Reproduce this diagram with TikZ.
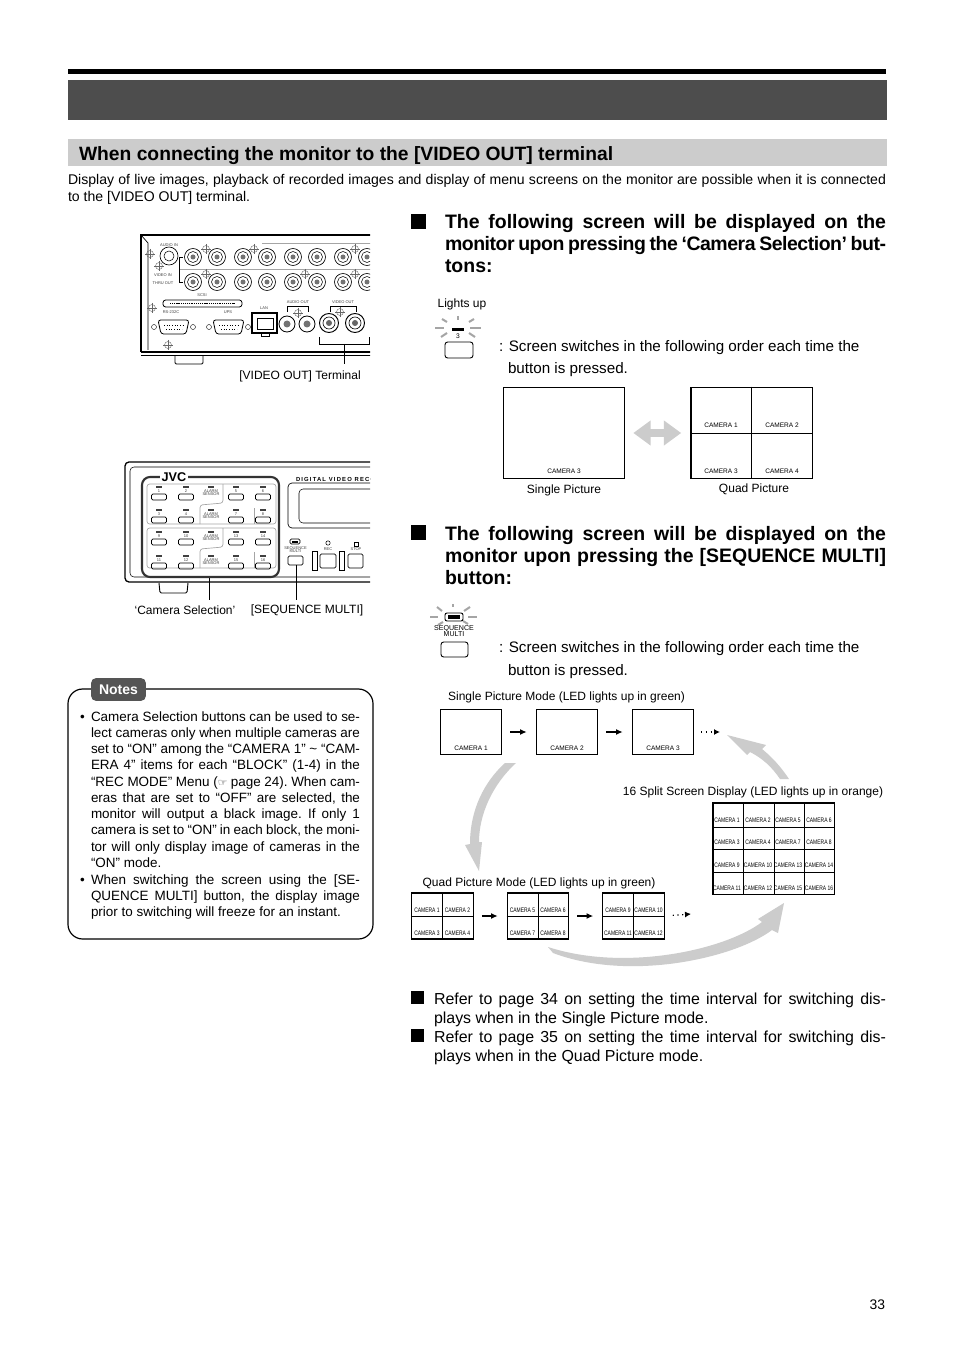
\documentclass[tikz,border=0pt]{standalone}
\usepackage{xcolor}
\usepackage{fontspec}
\setmainfont{Liberation Sans}
\newfontfamily\symfont{DejaVu Sans}
\usepackage{tikz}
\usetikzlibrary{arrows.meta}
\definecolor{bandgray}{RGB}{77, 77, 77}
\definecolor{lightband}{RGB}{204, 204, 204}
\definecolor{notesgray}{RGB}{85, 85, 85}
\definecolor{rimgray}{RGB}{165, 165, 165}
\newcommand{\fillline}[2]{\makebox[#1][s]{#2}}
\newcommand{\fs}[1]{\fontsize{#1}{#1}\selectfont}
\tikzset{
    txtbase/.style={anchor=base west, inner sep=0pt, outer sep=0pt},
    bodytxt/.style={txtbase, font=\fs{10.55}},
    headtxt/.style={txtbase, font=\fs{14.6}\bfseries},
    endtxt/.style={txtbase, font=\fs{11.95}},
    scrtxt/.style={txtbase, font=\fs{11.4}},
    notetxt/.style={txtbase, font=\fs{10.1}\frenchspacing},
    lbltxt/.style={inner sep=0pt, font=\fs{9}},
    camlabel/.style={inner sep=0pt, font=\fs{4.9}},
    camtight/.style={inner sep=0pt, font=\fs{4.9}, xscale=0.76},
    tinytxt/.style={inner sep=0pt, font=\fs{3}, text=black!75, align=center},
    bigscreen/.style={draw, line width=1pt, inner sep=0pt, minimum width=91pt, minimum height=68.5pt},
    seqscreen/.style={draw, line width=0.9pt, inner sep=0pt, minimum width=46pt, minimum height=34pt},
    quadscreen/.style={draw, line width=0.9pt, inner sep=0pt, minimum width=46pt, minimum height=34.5pt},
    splitscreen/.style={draw, line width=1pt, inner sep=0pt, minimum width=91pt, minimum height=68.5pt},
    gridline/.style={line width=0.6pt},
    steparrow/.style={line width=1.1pt, -{Latex[length=5pt,width=4.5pt]}, shorten <=6pt, shorten >=6.75pt},
    morearrow/.style={line width=0.9pt, dash pattern=on 0.9pt off 2.6pt, -{Latex[length=4.5pt,width=4.5pt]}, shorten <=5.25pt},
    swaparrow/.style={lightband, line width=6pt, {Triangle[length=13pt,width=18pt]}-{Triangle[length=13pt,width=18pt]}, shorten <=6pt, shorten >=6.75pt},
    ray/.style={rimgray, line width=1.5pt},
    panelbtn/.style={draw, rounded corners=1pt, line width=0.6pt},
    leadline/.style={line width=0.7pt},
    screwmark/.style={line width=0.3pt, black!60}
}
\begin{document}
\begin{tikzpicture}[x=0.75pt, y=-0.75pt]
    \useasboundingbox (0,0) rectangle (954,1351);
    \fill[white] (0,0) rectangle (954,1351);

    % Page header
    \fill[black] (68,69) rectangle (886,74);
    \fill[bandgray] (68,80) rectangle (887,120);
    \fill[lightband] (68,139) rectangle (887,166);
    \node[txtbase, font=\fs{14.45}\bfseries] (sectitle) at (79,160.5) {When connecting the monitor to the [VIDEO OUT] terminal};
    \node[bodytxt] (introa) at (68,185) {\fillline{613.5pt}{Display of live images, playback of recorded images and display of menu screens on the monitor are possible when it is connected}};
    \node[bodytxt] (introb) at (68,202) {to the [VIDEO OUT] terminal.};

    % Rear panel
    \begin{scope}
        \clip (130,225) rectangle (370,370);
        \draw[line width=1pt] (141,352) -- (141,235) -- (372,235);
        \draw[line width=0.5pt] (141,235) -- (148,243) -- (148,350);
        \draw[rimgray, line width=0.7pt] (262,243) -- (372,243);
        \draw[line width=1.2pt] (141,352) -- (372,352);
        \draw[line width=0.5pt] (141,355) -- (372,355);
        \draw[line width=0.7pt, rounded corners=1pt] (175,356) -- (175,364) -- (203,364) -- (203,356);
        \draw[rimgray, line width=0.7pt] (180,269) -- (372,269);
        % connectors
        \foreach \cx in {193,217,243,267,293,317,343,367} {
            \foreach \cy in {257,282} {
                \draw[line width=0.5pt] (\cx,\cy) circle[radius=8.5];
                \draw[line width=0.4pt] (\cx,\cy) circle[radius=5.5];
                \fill[black!55] (\cx,\cy) circle[radius=2.5];
            }
        }
        \draw[line width=0.5pt] (169,256) circle[radius=9];
        \draw[line width=0.4pt] (169,256) circle[radius=5];
        \draw[line width=0.4pt] (183,257) -- (179,257) -- (179,282) -- (183,282);
        \foreach \cx/\cy in {287/324,307/324} {
            \draw[line width=0.6pt] (\cx,\cy) circle[radius=8];
            \fill[black!55] (\cx,\cy) circle[radius=3.5];
        }
        \foreach \cx/\cy in {329/323,355/323} {
            \draw[line width=0.7pt] (\cx,\cy) circle[radius=9.5];
            \draw[line width=0.5pt] (\cx,\cy) circle[radius=6];
            \fill[black!60] (\cx,\cy) circle[radius=3];
        }
        % screws
        \foreach \cx/\cy in {150/254,159/266,206/249,254/249,206/274,305/274,355/249,355/274,152/308,168/345,298/313,340/312} {
            \draw[screwmark] (\cx,\cy) circle[radius=3.5];
            \draw[screwmark] (\cx-5,\cy) -- (\cx+5,\cy) (\cx,\cy-5) -- (\cx,\cy+5);
        }
        % scsi, serial, lan
        \draw[line width=0.6pt, rounded corners=2pt] (163,300) rectangle (242,307);
        \draw[line width=1.2pt, dash pattern=on 0.8pt off 0.6pt] (170,303.5) -- (235,303.5);
        \foreach \bx in {155,210} {
            \draw[line width=0.6pt, rounded corners=2pt] (\bx+3,320) -- (\bx+34,320) -- (\bx+31,334) -- (\bx+6,334) -- cycle;
            \draw[line width=0.3pt] (\bx-1,327) circle[radius=2.5] (\bx+38,327) circle[radius=2.5];
            \draw[line width=0.6pt, dash pattern=on 0.8pt off 1.2pt] (\bx+9,325) -- (\bx+29,325) (\bx+11,329) -- (\bx+27,329);
        }
        \draw[line width=0.9pt] (252,313) rectangle (277,333);
        \draw[line width=0.6pt] (257,318) rectangle (273,329);
        \draw[line width=0.5pt] (261,333) rectangle (269,336);
        \node[tinytxt] (audioinlbl) at (169,245) {AUDIO IN};
        \node[tinytxt] (videoinlbl) at (163,275) {VIDEO IN};
        \node[tinytxt] (thruoutlbl) at (163,283) {THRU OUT};
        \node[tinytxt] (scsilbl) at (202,295) {SCSI};
        \node[tinytxt] (rslbl) at (171,312) {RS-232C};
        \node[tinytxt] (upslbl) at (228,312) {UPS};
        \node[tinytxt] (lanlbl) at (264,308) {LAN};
        \node[tinytxt] (audiooutlbl) at (298,302) {AUDIO OUT};
        \node[tinytxt] (videooutlbl) at (343,302) {VIDEO OUT};
        \draw[line width=0.3pt] (287,312) -- (287,306) -- (308,306) -- (308,312);
        \draw[line width=0.3pt] (330,312) -- (330,306) -- (356,306) -- (356,312);
    \end{scope}
    \node[lbltxt] (vterm) at (300,376.5) {[VIDEO OUT] Terminal};
    \coordinate (vbrack) at (344,344);
    \coordinate (vfoot) at (344,364);
    \draw[leadline] (319,337) -- (319,344) -- (369,344) -- (369,337);
    \draw[leadline] (vbrack) -- (vfoot);

    % Front panel
    \begin{scope}
        \clip (120,455) rectangle (370,600);
        \draw[line width=1pt, rounded corners=3pt] (375,462) -- (125,462) -- (125,582) -- (375,582);
        \draw[line width=0.4pt, rounded corners=3pt] (375,467) -- (130,467) -- (130,577) -- (375,577);
        \draw[line width=0.7pt, rounded corners=1pt] (159,583) -- (160,593) -- (187,593) -- (188,583);
        \draw[line width=1.6pt, black!80, rounded corners=6pt] (142,477) rectangle (279,577);
        \foreach \dy in {0,44} {
            \draw[rimgray, line width=0.5pt, rounded corners=2pt] (147,524+\dy) -- (147,484+\dy) -- (276,484+\dy) -- (276,524+\dy) -- cycle;
            \draw[rimgray, line width=0.5pt, rounded corners=2pt] (223,484+\dy) -- (223,503+\dy) -- (200,505+\dy) -- (200,524+\dy);
            \draw[rimgray, line width=0.5pt] (254,508+\dy) -- (254,524+\dy);
        }
        % camera buttons
        \foreach \ry/\na/\nb/\nc/\nd in {497/1/2/5/6, 520/3/4/7/8, 542/9/10/13/14, 566/11/12/15/16} {
            \foreach \bx/\bn in {159/\na, 186/\nb, 236/\nc, 263/\nd} {
                \draw[panelbtn] (\bx-7.5,\ry-3) rectangle (\bx+7.5,\ry+3);
                \fill[black!75] (\bx-3,\ry-11) rectangle (\bx+3,\ry-9);
                \node[tinytxt] (btn\bn) at (\bx,\ry-6) {\bn};
            }
            \fill[black!75] (208,\ry-11) rectangle (214,\ry-9);
            \node[tinytxt] (alarm\ry) at (211,\ry-4.5) {ALARM\\[-0.6pt]SENSOR};
        }
        \node[font=\fs{9.5}\bfseries, fill=white, inner xsep=1pt, inner ysep=0pt] (jvclogo) at (174,477) {JVC};
        \node[txtbase, font=\fs{4.4}\bfseries\addfontfeature{LetterSpace=20}] (brandlbl) at (296,481) {DIGITAL VIDEO RECORDER};
        % display
        \draw[line width=0.5pt, rounded corners=3pt] (375,483) -- (288,483) -- (288,528) -- (375,528);
        \draw[line width=0.4pt, rounded corners=3pt] (375,489) -- (299,489) -- (299,523) -- (375,523);
        % sequence, rec, stop
        \draw[line width=0.6pt, rounded corners=1pt] (290,539) rectangle (300,544);
        \fill[black] (292,540.5) rectangle (298,542.5);
        \node[tinytxt] (seqpanel) at (295.5,550) {SEQUENCE\\[-0.6pt]MULTI};
        \draw[panelbtn] (288,556) rectangle (303,565);
        \draw[line width=0.4pt] (328,543) circle[radius=2.2];
        \node[tinytxt] (recpanel) at (328,549) {REC};
        \draw[panelbtn] (320,554) rectangle (336,568);
        \draw[line width=0.5pt] (354,542) rectangle (358,546);
        \node[tinytxt] (stoppanel) at (356,549) {STOP};
        \draw[panelbtn] (348,554) rectangle (363,568);
        \draw[line width=0.5pt] (312,551) rectangle (317,570);
        \draw[line width=0.5pt] (339,551) rectangle (344,570);
    \end{scope}
    \node[lbltxt] (camsel) at (185,610.5) {‘Camera Selection’};
    \node[lbltxt] (seqsel) at (307,610.5) {[SEQUENCE MULTI]};
    \coordinate (camtop) at (209,578);
    \coordinate (seqtop) at (296,565);
    \draw[leadline] (camtop) -- (209,600);
    \draw[leadline] (seqtop) -- (296,600);

    % Notes box
    \draw[line width=0.9pt, rounded corners=11pt] (68,689) rectangle (373,939);
    \node[fill=notesgray, rounded corners=3.5pt, inner sep=0pt, minimum width=41pt, minimum height=17pt, text=white, font=\fs{10.5}\bfseries] (notestab) at (118.5,689.5) {Notes};
    \node[notetxt] (bulleta) at (80,721) {•};
    \node[notetxt] (notea) at (91,721) {\fillline{201.75pt}{Camera Selection buttons can be used to se-}};
    \node[notetxt] (noteb) at (91,737) {\fillline{201.75pt}{lect cameras only when multiple cameras are}};
    \node[notetxt] (notec) at (91,753) {\fillline{201.75pt}{set to “ON” among the “CAMERA 1” \textasciitilde\ “CAM-}};
    \node[notetxt] (noted) at (91,769.5) {\fillline{201.75pt}{ERA 4” items for each “BLOCK” (1-4) in the}};
    \node[notetxt] (notee) at (91,786) {\fillline{201.75pt}{“REC MODE” Menu ({\symfont\fs{8}\textcolor{black!80}{☞}} page 24). When cam-}};
    \node[notetxt] (notef) at (91,802) {\fillline{201.75pt}{eras that are set to “OFF” are selected, the}};
    \node[notetxt] (noteg) at (91,818) {\fillline{201.75pt}{monitor will output a black image. If only 1}};
    \node[notetxt] (noteh) at (91,834.5) {\fillline{201.75pt}{camera is set to “ON” in each block, the moni-}};
    \node[notetxt] (notei) at (91,851) {\fillline{201.75pt}{tor will only display image of cameras in the}};
    \node[notetxt] (notej) at (91,867) {“ON” mode.};
    \node[notetxt] (bulletb) at (80,884) {•};
    \node[notetxt] (notek) at (91,884) {\fillline{201.75pt}{When switching the screen using the [SE-}};
    \node[notetxt] (notel) at (91,900) {\fillline{201.75pt}{QUENCE MULTI] button, the display image}};
    \node[notetxt] (notem) at (91,916) {prior to switching will freeze for an instant.};

    % Camera Selection heading
    \fill[black] (411,214) rectangle (426,229);
    \node[headtxt] (heada) at (445,229) {\fillline{330.75pt}{The following screen will be displayed on the}};
    \node[headtxt] (headb) at (445,251) {\fillline{330.75pt}{\addfontfeature{LetterSpace=-2.4}monitor upon pressing the ‘Camera Selection’ but-}};
    \node[headtxt] (headc) at (445,273) {tons:};

    % Lights up button
    \node[lbltxt] (lightsup) at (462,304) {Lights up};
    \foreach \ax/\ay/\bx/\by in {435/328/444/328, 470/328/481/328, 458/316/458/320, 442/319/447/322, 474/319/469/322, 441/337/447/333, 475/337/469/333} {
        \draw[ray] (\ax,\ay) -- (\bx,\by);
    }
    \fill[black] (452,328) rectangle (464,331);
    \node[inner sep=0pt, font=\fs{5}] (lednum) at (458,336) {3};
    \draw[line width=0.7pt, rounded corners=2pt] (445,342) rectangle (473,358);
    \node[scrtxt] (screena) at (499,351.5) {: Screen switches in the following order each time the};
    \node[scrtxt] (screenb) at (508,373.5) {button is pressed.};

    % Single and quad picture
    \node[bigscreen] (single) at (564,433) {};
    \node[camlabel] (singlecam) at (564,471) {CAMERA 3};
    \node[bigscreen] (quad) at (751.5,433) {};
    \draw[gridline] (quad.north) -- (quad.south);
    \draw[gridline] (quad.west) -- (quad.east);
    \foreach \cx/\cy/\n in {721/425/1, 782/425/2, 721/471/3, 782/471/4} {
        \node[camlabel] (quadcam\n) at (\cx,\cy) {CAMERA \n};
    }
    \draw[swaparrow] (single.east) -- (quad.west);
    \node[lbltxt] (singlelbl) at (564,490) {Single Picture};
    \node[lbltxt] (quadlbl) at (754,489) {Quad Picture};

    % Sequence Multi heading
    \fill[black] (411,525) rectangle (426,540);
    \node[headtxt] (headd) at (445,540) {\fillline{330.75pt}{The following screen will be displayed on the}};
    \node[headtxt] (heade) at (445,562) {\fillline{330.75pt}{monitor upon pressing the [SEQUENCE MULTI]}};
    \node[headtxt] (headf) at (445,584) {button:};

    % Sequence Multi button
    \foreach \ax/\ay/\bx/\by in {430/617/438/617, 468/617/477/617, 453/604/453/607, 437/607/442/611, 470/607/464/611, 438/625/443/622, 468/624/463/621} {
        \draw[ray] (\ax,\ay) -- (\bx,\by);
    }
    \draw[line width=0.7pt, rounded corners=1.5pt] (445,613) rectangle (463,621);
    \fill[black] (448,615) rectangle (460,619);
    \node[inner sep=0pt, font=\fs{5.3}, align=center] (seqmulti) at (454,631.5) {SEQUENCE\\[-0.8pt]MULTI};
    \draw[line width=0.7pt, rounded corners=2pt] (441,642) rectangle (468,657);
    \node[scrtxt] (screenc) at (499,652.5) {: Screen switches in the following order each time the};
    \node[scrtxt] (screend) at (508,675.5) {button is pressed.};

    % Single picture mode
    \node[lbltxt] (singlemode) at (566.5,697) {Single Picture Mode (LED lights up in green)};
    \foreach \n/\cx in {1/471, 2/567, 3/663} {
        \node[seqscreen] (s\n) at (\cx,732) {};
        \node[camlabel] (s\n cam) at (\cx,748) {CAMERA \n};
    }
    \coordinate (smore) at (720,732);
    \draw[steparrow] (s1.east) -- (s2.west);
    \draw[steparrow] (s2.east) -- (s3.west);
    \draw[morearrow] (s3.east) -- (smore);

    % Quad picture mode
    \node[lbltxt] (quadmode) at (539,883) {Quad Picture Mode (LED lights up in green)};
    \foreach \g/\cx/\na/\nb/\nc/\nd in {1/442.5/1/2/3/4, 2/538/5/6/7/8, 3/633.5/9/10/11/12} {
        \node[quadscreen] (q\g) at (\cx,916) {};
        \draw[gridline] (q\g.north) -- (q\g.south);
        \draw[gridline] (q\g.west) -- (q\g.east);
        \node[camtight] (qa\g) at (\cx-15.5,910) {CAMERA \na};
        \node[camtight] (qb\g) at (\cx+15,910) {CAMERA \nb};
        \node[camtight] (qc\g) at (\cx-15.5,933) {CAMERA \nc};
        \node[camtight] (qd\g) at (\cx+15,933) {CAMERA \nd};
    }
    \coordinate (qmore) at (691,914);
    \draw[steparrow] (q1.east) -- (q2.west);
    \draw[steparrow] (q2.east) -- (q3.west);
    \draw[morearrow, shorten <=6pt] (q3.east) -- (qmore);

    % 16 split screen
    \node[lbltxt] (splitmode) at (753,792) {16 Split Screen Display (LED lights up in orange)};
    \node[splitscreen] (split) at (773.5,848.5) {};
    \foreach \gx in {743,774,804} {
        \draw[gridline] (\gx,803) -- (\gx,894);
    }
    \foreach \gy in {827,849,872} {
        \draw[gridline] (713,\gy) -- (834,\gy);
    }
    \foreach \cy/\na/\nb/\nc/\nd in {820/1/2/5/6, 842/3/4/7/8, 865/9/10/13/14, 888/11/12/15/16} {
        \node[camtight] (spl\na) at (727,\cy) {CAMERA \na};
        \node[camtight] (spl\nb) at (758,\cy) {CAMERA \nb};
        \node[camtight] (spl\nc) at (788,\cy) {CAMERA \nc};
        \node[camtight] (spl\nd) at (819,\cy) {CAMERA \nd};
    }

    % Big gray arrows
    \fill[lightband] (727,735) -- (747,755) -- (750,752) .. controls (762,758) and (772,767) .. (780,779) -- (789,779) .. controls (781,767) and (772,757) .. (762,749) -- (766,745) -- cycle;
    \fill[lightband] (505,763) .. controls (484,782) and (470,810) .. (470,844) -- (465,845) -- (479,871) -- (482,842) -- (479,842) .. controls (479,815) and (492,785) .. (516,763) -- cycle;
    \fill[lightband] (553,953) .. controls (630,982) and (735,958) .. (772,930) -- (778,933) -- (784,903) -- (758,919) -- (762,922) .. controls (725,950) and (625,972) .. (548,947) -- cycle;

    % Closing notes
    \fill[black] (411,991) rectangle (424,1004);
    \node[endtxt] (enda) at (434,1004) {\fillline{339pt}{Refer to page 34 on setting the time interval for switching dis-}};
    \node[endtxt] (endb) at (434,1023) {plays when in the Single Picture mode.};
    \fill[black] (411,1029) rectangle (424,1042);
    \node[endtxt] (endc) at (434,1042) {\fillline{339pt}{Refer to page 35 on setting the time interval for switching dis-}};
    \node[endtxt] (endd) at (434,1061) {plays when in the Quad Picture mode.};

    \node[txtbase, anchor=base east, font=\fs{10.4}] (pagenum) at (885,1309) {33};
\end{tikzpicture}
\end{document}
